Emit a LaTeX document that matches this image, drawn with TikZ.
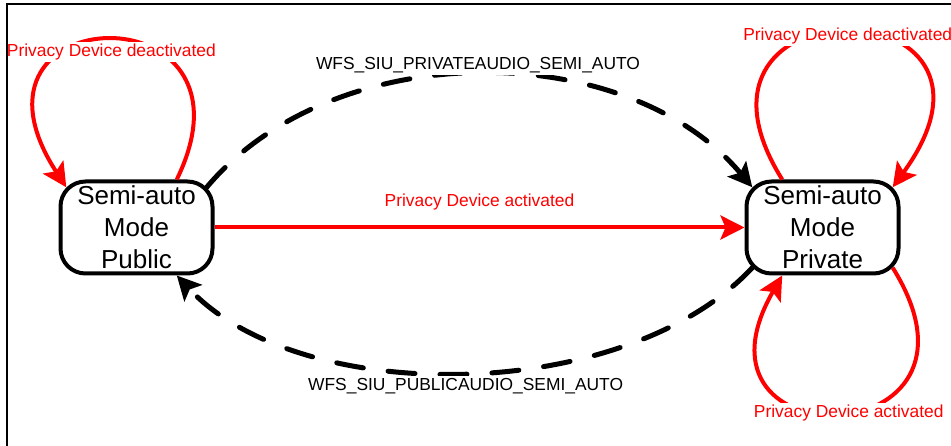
\documentclass[tikz,border=0pt]{standalone}
\usepackage{fontspec}
\setmainfont{Liberation Sans}
\usetikzlibrary{arrows.meta}
\tikzset{mode/.style={rectangle,draw,rounded corners=25pt,line width=4pt,minimum width=152pt,minimum height=92pt,inner sep=0pt,align=center,font=\fontsize{26}{32}\selectfont}}
\tikzset{lbl/.style={fill=white,inner sep=2pt,font=\fontsize{17.4}{20}\selectfont}}
\tikzset{trig/.style={draw=red,line width=4pt,-{Stealth[length=24pt,width=24pt,inset=5pt]}}}
\tikzset{cmd/.style={draw=black,line width=5pt,line cap=round,dash pattern=on 27pt off 25pt,-{Stealth[length=24pt,width=24pt,inset=5pt]}}}

\begin{document}
\begin{tikzpicture}[x=1pt,y=1pt]
        \useasboundingbox (0,0) rectangle (951,445);

        \node[mode] (pub) at (136.5,217.5) {Semi-auto\\Mode\\Public};
        \node[mode] (prv) at (822.5,217.5) {Semi-auto\\Mode\\Private};

        % privacy device events
        \draw [trig] (pub.east) -- (prv.west) node[lbl,text=red,midway,yshift=25pt]{Privacy Device activated};
        \draw [trig] (pub.50) .. controls +(64:214) and +(123:227) .. ([xshift=7.8pt,yshift=-7.8pt]pub.north west)
            node[lbl,text=red,pos=0.5,xshift=1pt,yshift=-12pt]{Privacy Device deactivated};
        \draw [trig] (prv.130) .. controls +(122:238) and +(54:252) .. ([xshift=-7.8pt,yshift=-7.8pt]prv.north east)
            node[lbl,text=red,pos=0.5,xshift=2pt,yshift=-5pt]{Privacy Device deactivated};
        \draw [trig] ([xshift=-7.8pt,yshift=7.8pt]prv.south east) .. controls +(-58:222) and +(-120:218) .. (prv.230)
            node[lbl,text=red,pos=0.5,xshift=8pt]{Privacy Device activated};

        % audio commands
        \draw [cmd] ([xshift=-7.8pt,yshift=-7.8pt]pub.north east) .. controls +(50:197) and +(130:197) .. ([xshift=7.8pt,yshift=-7.8pt]prv.north west)
            node[lbl,pos=0.5,xshift=-1.5pt,yshift=9pt]{WFS\_SIU\_PRIVATEAUDIO\_SEMI\_AUTO};
        \draw [cmd] ([xshift=7.8pt,yshift=7.8pt]prv.south west) .. controls +(-133:187) and +(-47:181.5) .. (pub.310)
            node[lbl,pos=0.5,xshift=2.5pt,yshift=-13.5pt]{WFS\_SIU\_PUBLICAUDIO\_SEMI\_AUTO};

        \draw[line width=2pt] (6.5,-40) rectangle (990,440.5);
    \end{tikzpicture}
\end{document}
